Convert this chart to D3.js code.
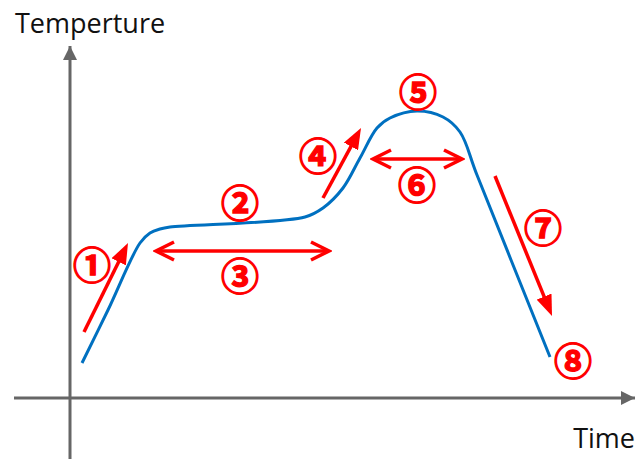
<!DOCTYPE html>
<html>
<head>
<meta charset="utf-8">
<script src="https://cdn.jsdelivr.net/npm/d3@7"></script>
<style>
  body { margin: 0; background: #fff; }
  svg { display: block; }
</style>
</head>
<body>
<div id="grafico"></div>
<script>
// Dados (unidades arbitrárias de tempo e temperatura)
const curveTime = [2.4, 7.6, 14, 16, 18, 20, 47, 50.6, 54.6, 58, 61.4, 64, 69.4, 74.6, 78, 81.4, 96];
const curveTemp = [8.75, 22, 38.75, 41.25, 42.25, 42.75, 45.25, 47.5, 52.5, 60, 67.5, 70, 71.75, 70.25, 66.5, 55.75, 10.25];

// Setas simples (início -> ponta)
const arrowFrom = [[2.8, 16.5], [50.6, 50], [85, 55.5]];
const arrowTo = [[11.6, 38.75], [58.2, 67.5], [96.4, 20.5]];

// Setas duplas horizontais
const spanStart = [17, 60.4];
const spanEnd = [52, 78.6];
const spanTemp = [36.75, 59.75];

// Rótulos das etapas
const stepLabels = ["①", "②", "③", "④", "⑤", "⑥", "⑦", "⑧"];
const labelTime = [4.4, 34, 34, 49.6, 69.6, 69.4, 94.6, 100.6];
const labelTemp = [34, 49.5, 31.25, 61.25, 77.25, 54, 43.25, 10];

const timeDomain = [0, 113];
const tempDomain = [0, 88];

// Definições do gráfico
const W = 637, H = 459;
const margin = { top: 46, right: 2, bottom: 61, left: 70 };
const width = W - margin.left - margin.right;
const height = H - margin.top - margin.bottom;

const svgRoot = d3.select("#grafico").append("svg")
    .attr("width", W)
    .attr("height", H);

const defs = svgRoot.append("defs");

// ponta das setas dos eixos
defs.append("marker")
    .attr("id", "axisHead")
    .attr("markerUnits", "userSpaceOnUse")
    .attr("viewBox", "0 0 14 14")
    .attr("markerWidth", 14).attr("markerHeight", 14)
    .attr("refX", 14).attr("refY", 7)
    .attr("orient", "auto")
    .append("path")
    .attr("d", "M0,0 L14,7 L0,14 Z")
    .attr("fill", "#666");

// ponta vermelha cheia
defs.append("marker")
    .attr("id", "redHead")
    .attr("markerUnits", "userSpaceOnUse")
    .attr("viewBox", "0 0 21 16")
    .attr("markerWidth", 21).attr("markerHeight", 16)
    .attr("refX", 21).attr("refY", 8)
    .attr("orient", "auto")
    .append("path")
    .attr("d", "M0,0 L21,8 L0,16 Z")
    .attr("fill", "#ff0000");

// ponta vermelha aberta (seta dupla)
defs.append("marker")
    .attr("id", "openHead")
    .attr("markerUnits", "userSpaceOnUse")
    .attr("viewBox", "-2 -2 24 24")
    .attr("markerWidth", 24).attr("markerHeight", 24)
    .attr("refX", 19).attr("refY", 10)
    .attr("orient", "auto-start-reverse")
    .append("path")
    .attr("d", "M1,1 L19,10 L1,19")
    .attr("fill", "none")
    .attr("stroke", "#ff0000")
    .attr("stroke-width", 3.5);

const svg = svgRoot.append("g")
    .attr("transform", `translate(${margin.left},${margin.top})`);

// Escalas
const x = d3.scaleLinear().domain(timeDomain).range([0, width]);
const y = d3.scaleLinear().domain(tempDomain).range([height, 0]);

// Eixos (setas cinzas)
svg.append("line")
    .attr("x1", -56).attr("y1", y(0))
    .attr("x2", x(timeDomain[1])).attr("y2", y(0))
    .attr("stroke", "#666").attr("stroke-width", 3)
    .attr("marker-end", "url(#axisHead)");

svg.append("line")
    .attr("x1", x(0)).attr("y1", height + margin.bottom)
    .attr("x2", x(0)).attr("y2", y(tempDomain[1]))
    .attr("stroke", "#666").attr("stroke-width", 3)
    .attr("marker-end", "url(#axisHead)");

// Curva de temperatura
const curveData = curveTime.map((t, i) => [t, curveTemp[i]]);
const line = d3.line()
    .x(d => x(d[0]))
    .y(d => y(d[1]))
    .curve(d3.curveCatmullRom.alpha(0.5));

svg.append("path")
    .datum(curveData)
    .attr("d", line)
    .attr("fill", "none")
    .attr("stroke", "#0070c0")
    .attr("stroke-width", 3);

// Setas simples vermelhas
svg.selectAll(".seta")
    .data(arrowFrom.map((a, i) => ({ a, b: arrowTo[i] })))
    .enter().append("line")
    .attr("class", "seta")
    .attr("x1", d => x(d.a[0]))
    .attr("y1", d => y(d.a[1]))
    .attr("x2", d => x(d.b[0]))
    .attr("y2", d => y(d.b[1]))
    .attr("stroke", "#ff0000")
    .attr("stroke-width", 3.5)
    .attr("stroke-dasharray", d => {
        const len = Math.hypot(x(d.b[0]) - x(d.a[0]), y(d.b[1]) - y(d.a[1]));
        return `${len - 12} 100`;
    })
    .attr("marker-end", "url(#redHead)");

// Setas duplas
svg.selectAll(".dupla")
    .data(spanStart.map((s, i) => ({ s, e: spanEnd[i], t: spanTemp[i] })))
    .enter().append("line")
    .attr("class", "dupla")
    .attr("x1", d => x(d.s) + 1)
    .attr("x2", d => x(d.e) - 1)
    .attr("y1", d => y(d.t))
    .attr("y2", d => y(d.t))
    .attr("stroke", "#ff0000")
    .attr("stroke-width", 3.5)
    .attr("marker-start", "url(#openHead)")
    .attr("marker-end", "url(#openHead)");

// Números das etapas
svg.selectAll(".etapa")
    .data(stepLabels)
    .enter().append("text")
    .attr("class", "etapa")
    .attr("x", (d, i) => x(labelTime[i]))
    .attr("y", (d, i) => y(labelTemp[i]))
    .attr("text-anchor", "middle")
    .attr("dominant-baseline", "central")
    .style("font-family", "'Noto Sans CJK JP', sans-serif")
    .style("font-weight", "bold")
    .style("font-size", "38px")
    .attr("fill", "#ff0000")
    .attr("stroke", "#ff0000")
    .attr("stroke-width", 1.3)
    .text(d => d);

// Títulos dos eixos
svgRoot.append("text")
    .attr("x", 15).attr("y", 33)
    .style("font-family", "'Open Sans', sans-serif")
    .style("font-size", "27px")
    .attr("fill", "#111")
    .text("Temperture");

svgRoot.append("text")
    .attr("x", 635).attr("y", 448)
    .attr("text-anchor", "end")
    .style("font-family", "'Open Sans', sans-serif")
    .style("font-size", "27px")
    .attr("fill", "#111")
    .text("Time");
</script>
</body>
</html>
